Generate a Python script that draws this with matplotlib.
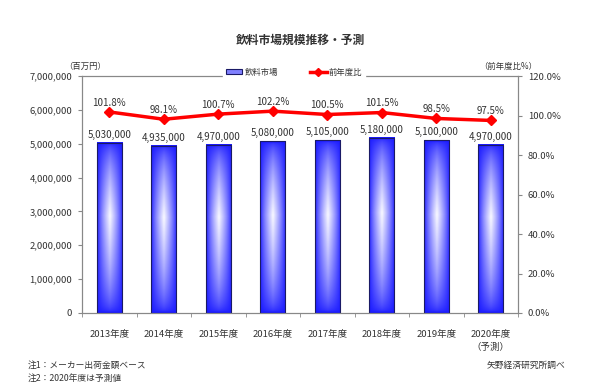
import numpy as np
import matplotlib
matplotlib.use("Agg")
import matplotlib.pyplot as plt
from matplotlib.lines import Line2D
from matplotlib.patches import Patch
from matplotlib.ticker import FuncFormatter, MultipleLocator

plt.rcParams['font.family'] = ['Noto Sans CJK JP', 'DejaVu Sans']

categories = ["2013年度", "2014年度", "2015年度", "2016年度", "2017年度", "2018年度", "2019年度", "2020年度\n（予測）"]
market = [5030000, 4935000, 4970000, 5080000, 5105000, 5180000, 5100000, 4970000]
yoy = [101.8, 98.1, 100.7, 102.2, 100.5, 101.5, 98.5, 97.5]

TXT = '#333333'
fig = plt.figure(figsize=(6, 3.89), dpi=100)
ax = fig.add_axes([82/600, 1-313/389, (518-82)/600, (313-76)/389])
ax2 = ax.twinx()

x = np.arange(len(categories))
w = 0.46

# gradient image
nu, nv = 60, 120
u = np.linspace(-1, 1, nu)
v = np.linspace(0, 1, nv)
U, V = np.meshgrid(u, v)
peak = 0.57
fv = np.where(V < peak, V / peak, (1 - V) / (1 - peak))
wh = np.clip((1 - np.abs(U)) ** 0.75 * fv ** 0.55, 0, 1) * 0.98
img = np.zeros((nv, nu, 3))
base = np.array([0.1, 0.1, 1.0])
for c in range(3):
    img[:, :, c] = base[c] + (1 - base[c]) * wh

for xi, h in zip(x, market):
    ax.imshow(img, extent=[xi - w/2, xi + w/2, 0, h], origin='lower', aspect='auto', zorder=2, interpolation='bilinear')
ax.bar(x, market, width=w, fill=False, edgecolor='#1a1a66', linewidth=0.8, zorder=3)

for xi, h in zip(x, market):
    ax.text(xi, h + 90000, f"{h:,}", ha='center', va='bottom', fontsize=7, color=TXT)

ax.set_xlim(-0.5, len(categories) - 0.5)
ax.set_ylim(0, 7000000)
ax.yaxis.set_major_locator(MultipleLocator(1000000))
ax.yaxis.set_major_formatter(FuncFormatter(lambda v, p: f"{int(v):,}"))
ax.set_xticks(x)
ax.set_xticklabels(categories, fontsize=6.8, color=TXT, linespacing=1.6)
ax.set_xticks(np.arange(len(categories) + 1) - 0.5, minor=True)
ax.tick_params(axis='x', which='major', length=0, pad=12)
ax.tick_params(axis='x', which='minor', length=3, color='#888888', direction='out')
ax.tick_params(axis='y', labelsize=6.8, labelcolor=TXT, length=3, color='#888888', pad=4)

ax2.plot(x, yoy, color='#ff0000', linewidth=2.5, marker='D', markersize=5, zorder=5)
for xi, val in zip(x, yoy):
    ax2.text(xi, val + 2.2, f"{val}%", ha='center', va='bottom', fontsize=7, color=TXT)
ax2.set_ylim(0, 120)
ax2.yaxis.set_major_locator(MultipleLocator(20))
ax2.yaxis.set_major_formatter(FuncFormatter(lambda v, p: f"{v:.1f}%"))
ax2.tick_params(axis='y', labelsize=6.8, labelcolor=TXT, length=3, color='#888888', pad=4)

for a in (ax, ax2):
    for s in a.spines.values():
        s.set_color('#888888')
        s.set_linewidth(0.8)

fig.text(300/600, 1-40/389, "飲料市場規模推移・予測", ha='center', va='center', fontsize=8.5, fontweight='bold', color=TXT)
fig.text(85/600, 1-66/389, "（百万円）", ha='center', va='center', fontsize=6, color=TXT)
fig.text(508/600, 1-66/389, "（前年度比%）", ha='center', va='center', fontsize=6, color=TXT)
fig.text(28/600, 1-365/389, "注1：メーカー出荷金額ベース", ha='left', va='center', fontsize=6.3, color=TXT)
fig.text(28/600, 1-378/389, "注2：2020年度は予測値", ha='left', va='center', fontsize=6.3, color=TXT)
fig.text(565/600, 1-365/389, "矢野経済研究所調べ", ha='right', va='center', fontsize=6.3, color=TXT)

handles = [Patch(facecolor='#8080ff', edgecolor='#1a1a66', linewidth=0.8),
           Line2D([], [], color='#ff0000', linewidth=2.5, marker='D', markersize=4)]
leg = fig.legend(handles, ["飲料市場", "前年度比"], loc='center', bbox_to_anchor=(294/600, 1-72/389),
                 ncol=2, fontsize=6, frameon=True, facecolor='white', edgecolor='white', framealpha=1,
                 handlelength=2.0, handleheight=0.5, handletextpad=0.3, columnspacing=3.8, borderpad=0.3)
for t in leg.get_texts():
    t.set_color(TXT)

fig.savefig("out.png", dpi=100)
